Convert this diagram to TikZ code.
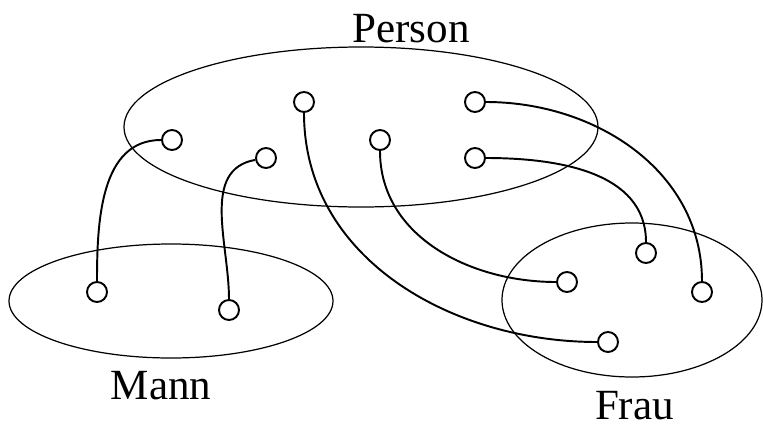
\documentclass[tikz,border=0pt]{standalone}
\usepackage{fontspec}
\setmainfont{Liberation Serif}
\usepackage{tikz}
\usetikzlibrary{positioning}

\begin{document}
\begin{tikzpicture}[font=\fontsize{24.5}{29}\selectfont,
    elt/.style={draw, circle, line width=1.1pt, minimum size=0.4cm, inner sep=0pt},
    set/.style={line width=0.7pt},
    lnk/.style={line width=1.1pt},
    lbl/.style={anchor=base}]
\useasboundingbox (0,0) rectangle (15.26,8.56);
% Person
\draw[set] (7.22, 6.02) ellipse [x radius=4.74, y radius=1.60];
\node[lbl] (person) at (8.22, 7.72) {Person};
\node[elt] (p1) at (3.44, 5.76) {};
\node[elt] (p2) at (5.32, 5.40) {};
\node[elt] (p3) at (6.08, 6.52) {};
\node[elt] (p4) at (7.60, 5.76) {};
\node[elt] (p5) at (9.50, 6.52) {};
\node[elt] (p6) at (9.50, 5.40) {};
% Mann
\draw[set] (3.42, 2.54) ellipse [x radius=3.24, y radius=1.14];
\node[lbl] (mann) at (3.22, 0.58) {Mann};
\node[elt] (m1) at (1.94, 2.72) {};
\node[elt] (m2) at (4.58, 2.36) {};
% Frau
\draw[set] (12.64, 2.56) ellipse [x radius=2.60, y radius=1.54];
\node[lbl] (frau) at (12.69, 0.18) {Frau};
\node[elt] (f1) at (12.92, 3.50) {};
\node[elt] (f2) at (11.34, 2.92) {};
\node[elt] (f3) at (14.04, 2.72) {};
\node[elt] (f4) at (12.16, 1.72) {};
% Links
\draw[lnk] (p1) to[out=180, in=90] (m1);
\draw[lnk] (p2) to[out=190, in=90] (m2);
\draw[lnk] (p3) to[out=-90, in=180] (f4);
\draw[lnk] (p4) to[out=-90, in=180] (f2);
\draw[lnk] (p5) to[out=0, in=90] (f3);
\draw[lnk] (p6) to[out=0, in=90] (f1);
\end{tikzpicture}
\end{document}
